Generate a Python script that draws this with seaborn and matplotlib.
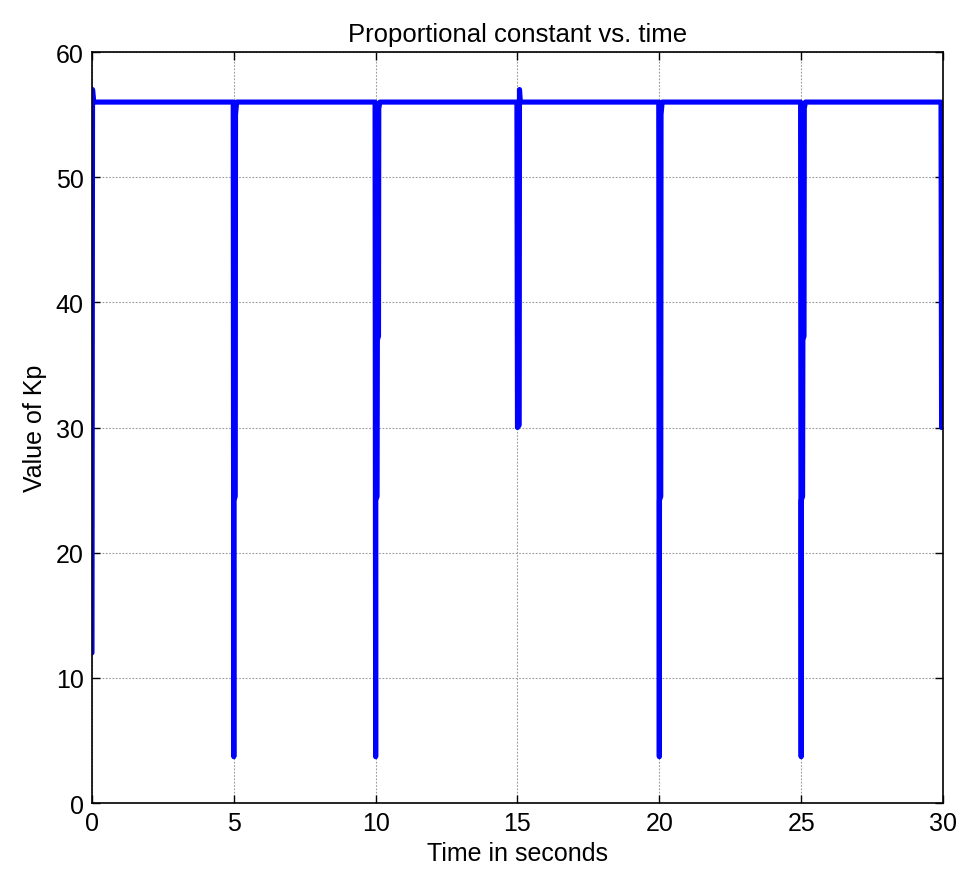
import numpy as np
import pandas as pd
import seaborn as sns
import matplotlib
matplotlib.use("Agg")
import matplotlib.pyplot as plt

# time (s) and Kp samples
time_s = [0.00, 0.02, 0.06,
          4.98, 5.00, 5.005, 5.05, 5.06, 5.10,
          9.98, 10.00, 10.005, 10.05, 10.06, 10.10, 10.11, 10.15,
          14.98, 15.00, 15.06, 15.07, 15.10,
          19.98, 20.00, 20.005, 20.05, 20.06, 20.10,
          24.98, 25.00, 25.005, 25.05, 25.06, 25.10, 25.11, 25.15,
          29.93, 29.95]
kp_value = [12.0, 57.0, 56.0,
            56.0, 3.7, 24.2, 24.5, 55.0, 56.0,
            56.0, 3.7, 24.2, 24.5, 37.0, 37.3, 55.5, 56.0,
            56.0, 30.0, 30.2, 57.0, 56.0,
            56.0, 3.7, 24.2, 24.5, 55.0, 56.0,
            56.0, 3.7, 24.2, 24.5, 37.0, 37.3, 55.5, 56.0,
            56.0, 30.0]

x_ticks = [0, 5, 10, 15, 20, 25, 30]
y_ticks = [0, 10, 20, 30, 40, 50, 60]

df = pd.DataFrame({"t": time_s, "kp": kp_value})

sns.set_style("ticks")
plt.rcParams["font.family"] = ["Liberation Sans", "DejaVu Sans"]
plt.rcParams["text.color"] = "black"
plt.rcParams["axes.labelcolor"] = "black"

fig = plt.figure(figsize=(9.6, 8.79), dpi=100)
ax = fig.add_axes([0.0958, 0.0853, 0.8865, 0.8544])

sns.lineplot(data=df, x="t", y="kp", sort=False, estimator=None,
             color="#0000ff", linewidth=3.7, ax=ax)

ax.set_xlim(0, 30)
ax.set_ylim(0, 60)
ax.set_xticks(x_ticks)
ax.set_yticks(y_ticks)
ax.grid(True, color="#999999", linestyle=(0, (1.5, 1.5)), linewidth=0.8)
ax.tick_params(direction="in", length=6, width=1, top=True, right=True,
               labelsize=18, colors="black", pad=6)
for s in ax.spines.values():
    s.set_visible(True)
    s.set_color("black")
    s.set_linewidth(1.2)

ax.set_title("Proportional constant vs. time", fontsize=18.5, pad=8, color="black")
ax.set_xlabel("Time in seconds", fontsize=18, labelpad=4)
ax.set_ylabel("Value of Kp", fontsize=18, labelpad=6)

fig.savefig("out.png", dpi=100, facecolor="white")
